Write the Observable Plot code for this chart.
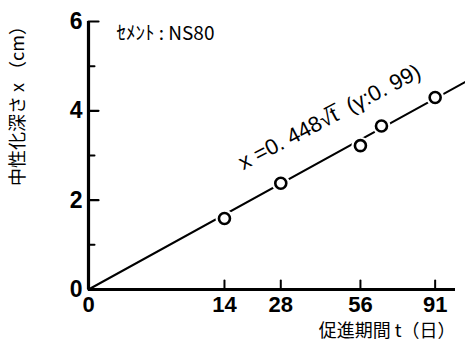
<!DOCTYPE html>
<html>
<head>
<meta charset="utf-8">
<script src="https://cdn.jsdelivr.net/npm/d3@7"></script>
<script src="https://cdn.jsdelivr.net/npm/@observablehq/plot@0.6"></script>
<style>
  html, body { margin: 0; padding: 0; background: #fff; }
  #chart svg { display: block; }
</style>
</head>
<body>
<div id="chart"></div>
<script>
// ---- data ----
const days = [14, 28, 56, 65, 91];            // 促進期間 t (日)
const depth = [1.59, 2.38, 3.22, 3.66, 4.30]; // 中性化深さ x (cm)
const xTicks = [0, 14, 28, 56, 91];
const yTicks = [0, 2, 4, 6];
const yMinorTicks = [1, 3, 5];
const fitCoef = 0.448;
const fitRange = [0, 108];
const eqLabel = "x =0. 448√t̅  (γ:0. 99)";
const eqAnchor = {t: 44, x: 3.86};
const cementLabel = "ｾﾒﾝﾄ : NS80";
const xLabel = "促進期間 t（日）";
const yLabel = "中性化深さ x （cm）";

const points = days.map((t, i) => ({t, x: depth[i]}));
const fit = fitRange.map(t => ({t, x: fitCoef * Math.sqrt(t)}));
const tickShape = {draw(c, l) { c.moveTo(0, 0); c.lineTo(0, -l); }};

const chart = Plot.plot({
  width: 465,
  height: 342,
  marginLeft: 88,
  marginRight: 10,
  marginTop: 21,
  marginBottom: 53,
  style: {fontFamily: "'Liberation Sans', Arial, sans-serif", background: "#fff", color: "#000"},
  x: {type: "sqrt", domain: [0, 102]},
  y: {domain: [0, 6]},
  marks: [
    Plot.ruleY([0], {strokeWidth: 3.2}),
    Plot.ruleX([0], {strokeWidth: 3.2}),
    Plot.vector(xTicks.slice(1), {x: d => d, y: 0, length: 9, rotate: 0, anchor: "start", shape: tickShape, strokeWidth: 2}),
    Plot.vector(yTicks, {x: 0, y: d => d, length: 10, rotate: 90, anchor: "start", shape: tickShape, strokeWidth: 2.2}),
    Plot.vector(yMinorTicks, {x: 0, y: d => d, length: 6, rotate: 90, anchor: "start", shape: tickShape, strokeWidth: 2}),
    Plot.axisX({ticks: xTicks, tickSize: 0, tickPadding: 7, tickFormat: d => String(d), label: null, fontSize: 22, fontWeight: "bold"}),
    Plot.axisY({ticks: yTicks, tickSize: 0, tickPadding: 6, tickFormat: d => String(d), label: null, fontSize: 23, fontWeight: "bold"}),
    Plot.line(fit, {x: "t", y: "x", strokeWidth: 2, clip: false}),
    Plot.dot(points, {x: "t", y: "x", r: 9, fill: "#fff", stroke: null}),
    Plot.dot(points, {x: "t", y: "x", r: 5.5, fill: "#fff", stroke: "#000", strokeWidth: 2.6}),
    Plot.text([eqLabel], {x: () => eqAnchor.t, y: () => eqAnchor.x, text: d => d, rotate: -27.6,
      fontSize: 22, fontFamily: "'Liberation Sans Narrow', 'Liberation Sans', sans-serif"}),
    Plot.text([cementLabel], {frameAnchor: "top-left", dx: 28, dy: 12, text: d => d, textAnchor: "start", lineAnchor: "middle",
      fontSize: 19, fontFamily: "'Liberation Sans Narrow', 'Noto Sans CJK JP', sans-serif"}),
    Plot.text([xLabel], {frameAnchor: "bottom-right", dy: 42, text: d => d, textAnchor: "end", lineAnchor: "middle",
      fontSize: 18, fontFamily: "'Noto Sans CJK JP', sans-serif"}),
    Plot.text([yLabel], {frameAnchor: "left", dx: -70, dy: -54, rotate: -90, text: d => d, textAnchor: "middle", lineAnchor: "middle",
      fontSize: 18, fontFamily: "'Noto Sans CJK JP', sans-serif"})
  ]
});
document.getElementById("chart").appendChild(chart);
</script>
</body>
</html>
